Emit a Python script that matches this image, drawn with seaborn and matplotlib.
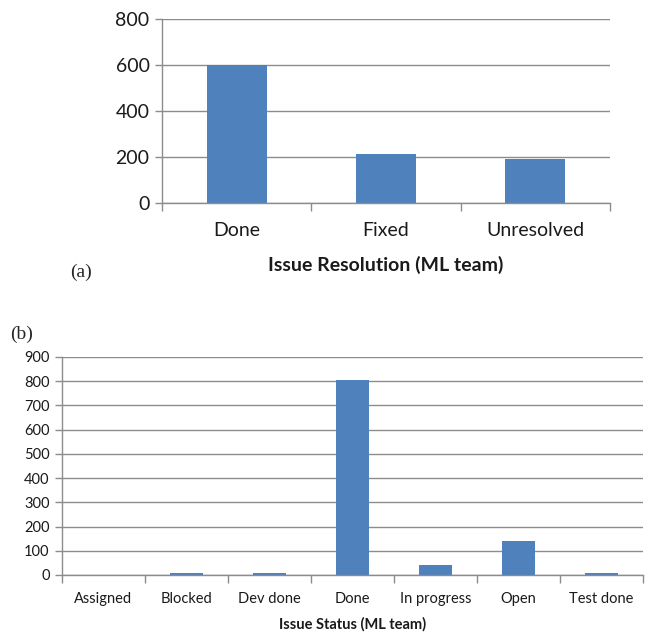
import matplotlib
matplotlib.use("Agg")
import matplotlib.pyplot as plt
import seaborn as sns
import pandas as pd
from matplotlib.ticker import FixedLocator

# data
res_categories = ["Done", "Fixed", "Unresolved"]
res_values = [600, 212, 191]
res_yticks = [0, 200, 400, 600, 800]

status_categories = ["Assigned", "Blocked", "Dev done", "Done", "In progress", "Open", "Test done"]
status_values = [0, 8, 8, 807, 41, 142, 8]
status_yticks = [0, 100, 200, 300, 400, 500, 600, 700, 800, 900]

sns.set_style("white")
plt.rcParams["font.family"] = ["Lato", "DejaVu Sans"]

BAR = "#4F81BD"
GRID = "#8c8c8c"

fig = plt.figure(figsize=(6.45, 6.39), dpi=100)
W, H = 645, 639


def axes_px(l, t, r, b):
    return fig.add_axes([l / W, 1 - b / H, (r - l) / W, (b - t) / H])


def style(ax, cats, yticks, fs, xlabel, labelpad, tickpad):
    n = len(cats)
    ax.set_xlim(-0.5, n - 0.5)
    ax.set_ylim(yticks[0], yticks[-1])
    ax.set_yticks(yticks)
    ax.set_yticklabels([str(v) for v in yticks], fontsize=fs, color="#1a1a1a")
    ax.yaxis.grid(True, color=GRID, linewidth=1.0)
    ax.set_axisbelow(True)
    for s in ["top", "right"]:
        ax.spines[s].set_visible(False)
    for s in ["left", "bottom"]:
        ax.spines[s].set_color(GRID)
        ax.spines[s].set_linewidth(1.0)
    ax.tick_params(axis="y", which="major", length=5, width=1.0, color=GRID,
                   direction="out", pad=4, left=True)
    ax.set_xticks(range(n))
    ax.set_xticklabels(cats, fontsize=fs, color="#1a1a1a")
    ax.tick_params(axis="x", which="major", length=0, pad=tickpad)
    ax.xaxis.set_minor_locator(FixedLocator([i - 0.5 for i in range(n + 1)]))
    ax.tick_params(axis="x", which="minor", length=6, width=1.0, color=GRID,
                   direction="out", bottom=True)
    ax.set_xlabel(xlabel, fontsize=fs, fontweight="bold", color="#1a1a1a",
                  labelpad=labelpad)
    ax.set_ylabel("")


# top panel
ax1 = axes_px(162, 19, 610, 203)
df1 = pd.DataFrame({"cat": res_categories, "val": res_values})
sns.barplot(data=df1, x="cat", y="val", color=BAR, width=0.4, ax=ax1,
            saturation=1, linewidth=0)
style(ax1, res_categories, res_yticks, 14, "Issue Resolution (ML team)", 12, 14)

# bottom panel
ax2 = axes_px(62, 357, 643, 575)
df2 = pd.DataFrame({"cat": status_categories, "val": status_values})
sns.barplot(data=df2, x="cat", y="val", color=BAR, width=0.4, ax=ax2,
            saturation=1, linewidth=0)
style(ax2, status_categories, status_yticks, 10.5, "Issue Status (ML team)", 8, 12)

fig.text(70 / W, 1 - 272 / H, "(a)", fontsize=14, family="Liberation Serif",
         va="center", ha="left")
fig.text(10 / W, 1 - 334 / H, "(b)", fontsize=14, family="Liberation Serif",
         va="center", ha="left")

fig.savefig("out.png", dpi=100)
